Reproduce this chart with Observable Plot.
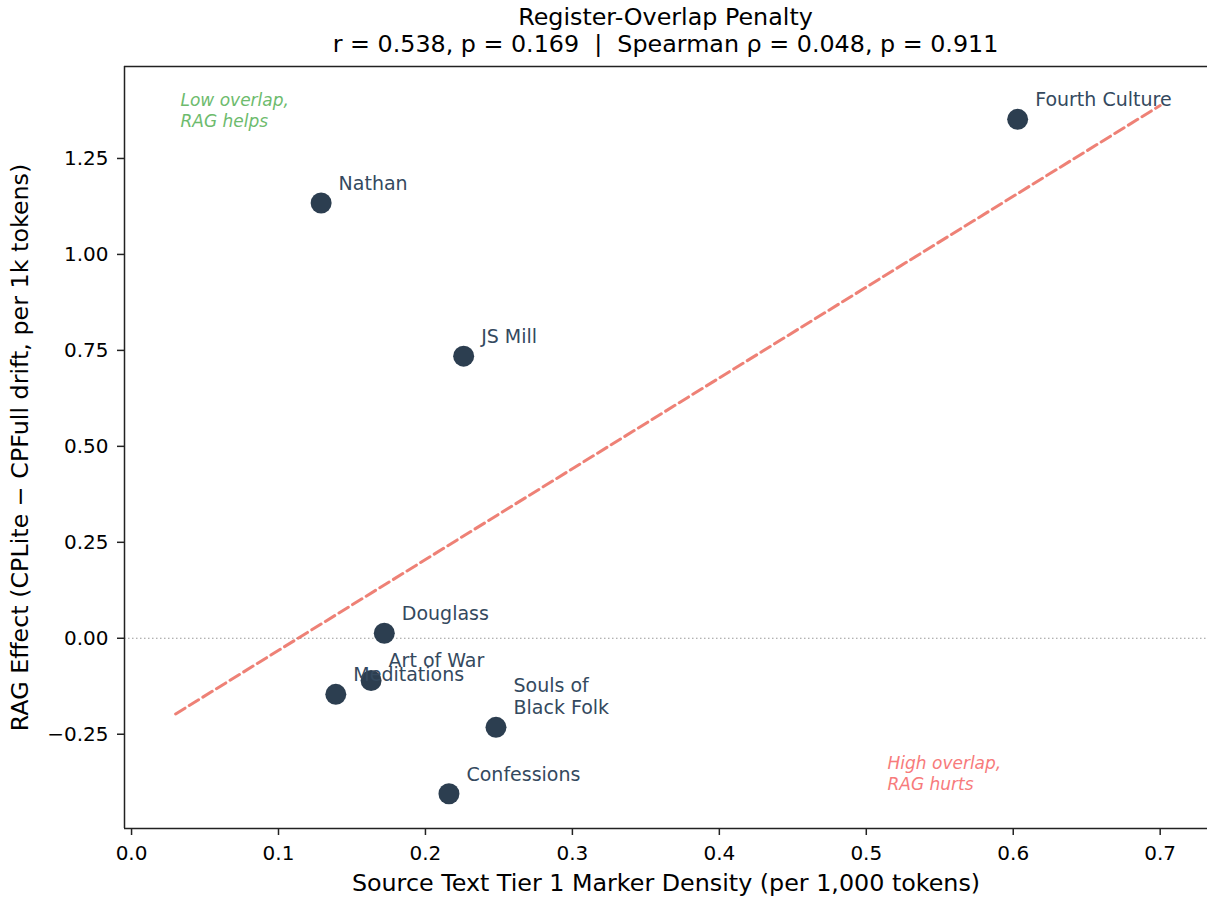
<!DOCTYPE html>
<html><head><meta charset="utf-8">
<script src="https://cdn.jsdelivr.net/npm/d3@7"></script>
<script src="https://cdn.jsdelivr.net/npm/@observablehq/plot@0.6"></script>
<style>
body{margin:0;background:#fff;font-family:"DejaVu Sans",sans-serif;}
#title{position:relative;height:60px;width:1207px;}
#title div{position:absolute;left:124px;width:1083px;text-align:center;font-size:23.8px;color:#000;line-height:27px;white-space:pre;}
#chart svg{display:block;}
</style></head><body>
<div id="title"><div style="top:4px">Register-Overlap Penalty
r = 0.538, p = 0.169  |  Spearman ρ = 0.048, p = 0.911</div></div>
<div id="chart"></div>
<script>
// Data
const texts = ["Fourth Culture", "Nathan", "JS Mill", "Douglass", "Art of War", "Meditations", "Souls of\nBlack Folk", "Confessions"];
const markerDensity = [0.603, 0.129, 0.226, 0.172, 0.163, 0.139, 0.248, 0.216];
const ragEffect = [1.352, 1.134, 0.735, 0.013, -0.110, -0.146, -0.232, -0.405];
const xTicks = [0, 0.1, 0.2, 0.3, 0.4, 0.5, 0.6, 0.7];
const yTicks = [-0.25, 0, 0.25, 0.5, 0.75, 1.0, 1.25];
const fitRange = [0.03, 0.70];
const xDomain = [-0.0048, 0.7322];
const yDomain = [-0.4956, 1.4896];
const annotations = ["Low overlap,\nRAG helps", "High overlap,\nRAG hurts"];
const xLabel = "Source Text Tier 1 Marker Density (per 1,000 tokens)";
const yLabel = "RAG Effect (CPLite − CPFull drift, per 1k tokens)";

const points = texts.map((t, i) => ({text: t, x: markerDensity[i], y: ragEffect[i]}));

// least-squares fit from the data
const mx = d3.mean(markerDensity), my = d3.mean(ragEffect);
const slope = d3.sum(markerDensity, (x, i) => (x - mx) * (ragEffect[i] - my)) / d3.sum(markerDensity, x => (x - mx) ** 2);
const intercept = my - slope * mx;
const fitLine = fitRange.map(x => ({x, y: intercept + slope * x}));

const fmtY = d3.format(".2f");
const fmtX = d3.format(".1f");

const chart = Plot.plot({
  width: 1207,
  height: 839,
  marginTop: 6,
  marginBottom: 71,
  marginLeft: 124,
  marginRight: 0,
  style: {fontFamily: "DejaVu Sans, sans-serif", fontSize: "20px", color: "#000", background: "#fff", overflow: "visible"},
  x: {domain: xDomain},
  y: {domain: yDomain},
  marks: [
    Plot.ruleY([0], {stroke: "#999", strokeWidth: 1.2, strokeDasharray: "1.5,2.5"}),
    Plot.line(fitLine, {x: "x", y: "y", stroke: "#e74c3c", strokeOpacity: 0.7, strokeWidth: 3, strokeDasharray: "11,5"}),
    Plot.dot(points, {x: "x", y: "y", r: 10.5, fill: "#2c3e50", stroke: "none"}),
    Plot.text(points, {x: "x", y: "y", text: "text", textAnchor: "start", lineAnchor: "bottom", dx: 17.5, dy: -13, fontSize: 19, fill: "#34495e", lineHeight: 1.2}),
    Plot.text([annotations[0]], {text: d => d, frameAnchor: "top-left", textAnchor: "start", lineAnchor: "top", dx: 56, dy: 25, fontSize: 17, fontStyle: "italic", fill: "#6dbb6d", lineHeight: 1.22}),
    Plot.text([annotations[1]], {text: d => d, frameAnchor: "top-left", textAnchor: "start", lineAnchor: "top", dx: 763, dy: 688, fontSize: 17, fontStyle: "italic", fill: "#f77b7b", lineHeight: 1.22}),
    Plot.ruleX([xDomain[0]], {stroke: "#222", strokeWidth: 1.5}),
    Plot.ruleY([yDomain[0], yDomain[1]], {stroke: "#222", strokeWidth: 1.5}),
    Plot.axisX({ticks: xTicks, tickFormat: fmtX, tickSize: 7, tickPadding: 10, fontSize: 20, label: null, stroke: "#222", strokeWidth: 1.5}),
    Plot.axisY({ticks: yTicks, tickFormat: fmtY, tickSize: 7, tickPadding: 9, fontSize: 20, label: null, stroke: "#222", strokeWidth: 1.5}),
    Plot.text([xLabel], {text: d => d, frameAnchor: "bottom", dy: 62, fontSize: 23.8, fill: "#000"}),
    Plot.text([yLabel], {text: d => d, frameAnchor: "left", textAnchor: "middle", rotate: -90, dx: -104, fontSize: 23.8, fill: "#000"})
  ]
});
document.getElementById("chart").appendChild(chart);
</script>
</body></html>
